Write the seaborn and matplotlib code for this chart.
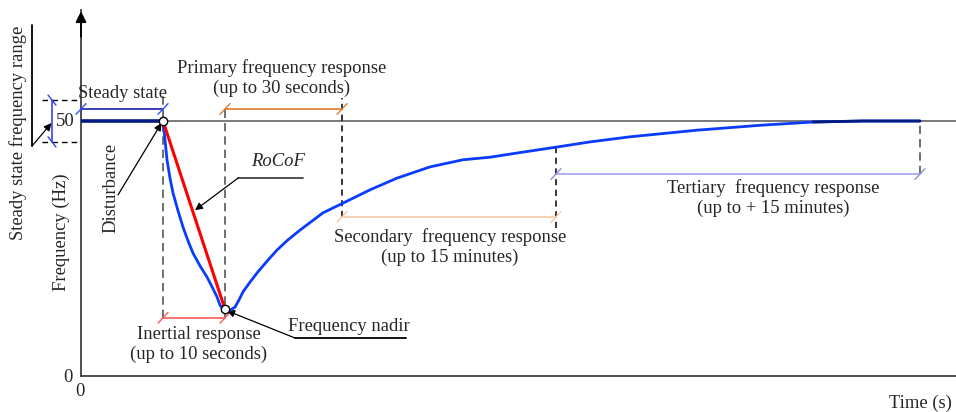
import matplotlib
matplotlib.use("Agg")
import matplotlib.pyplot as plt
import numpy as np
import pandas as pd
import seaborn as sns

# ---------------- data (schematic) ----------------
steady_t = [0, 82]
steady_f = [50.0, 50.0]

resp_t = [82, 84, 86, 89, 92, 97, 102, 107, 112, 119, 126, 131, 136, 139, 142,
          145, 149, 154, 158, 162, 169, 176, 186, 196, 207, 219, 242, 262, 289,
          316, 349, 382, 409, 442, 476, 509, 549, 616, 682, 732, 782, 839]
resp_f = [50.0, 46.3, 42.4, 38.8, 35.9, 32.4, 29.2, 26.5, 24.1, 21.6, 19.4,
          17.5, 15.5, 13.9, 13.1, 12.9, 12.9, 13.5, 14.9, 16.5, 18.4, 20.2,
          22.5, 24.7, 26.7, 28.6, 32.0, 33.9, 36.5, 38.8, 41.0, 42.4, 42.9,
          43.9, 44.9, 45.9, 46.9, 48.2, 49.2, 49.8, 50.0, 50.0]

rocof_t = [82, 144]
rocof_f = [50.0, 13.1]

nominal_f = 50.0
band_f = [45.9, 54.1]           # steady state frequency range
t_disturb, t_nadir, t_primary, t_secondary, t_tertiary = 82, 144, 261, 475, 839

# ---------------- style ----------------
sns.set_theme(style="white")
plt.rcParams["font.family"] = ["Liberation Serif", "DejaVu Serif"]
FS = 13.4

fig = plt.figure(figsize=(9.56, 4.12), dpi=100)
ax = fig.add_axes([81 / 956, 36 / 412, 875 / 956, 366 / 412])
ax.set_xlim(0, 875)
ax.set_ylim(0, 366 / 5.1)
ax.set_xticks([])
ax.set_yticks([])
for s in ["top", "right"]:
    ax.spines[s].set_visible(False)
for s in ["left", "bottom"]:
    ax.spines[s].set_color("#404040")
    ax.spines[s].set_linewidth(1.3)

# y axis arrow head
ax.annotate("", xy=(0, 366 / 5.1 + 0.3), xytext=(0, 66),
            arrowprops=dict(arrowstyle="-|>", color="black", lw=1.3,
                            mutation_scale=16),
            annotation_clip=False)

# nominal line
ax.axhline(nominal_f, color="#707070", lw=1.3, zorder=1)

# ---------------- curves ----------------
df_resp = pd.DataFrame({"t": resp_t, "f": resp_f})
line_kw = dict(sort=False, estimator=None, ax=ax)
sns.lineplot(data=df_resp, x="t", y="f", color="#0a3cff", lw=2.0, zorder=4,
             **line_kw)
tail = df_resp[(df_resp["f"] >= 49.8) & (df_resp["t"] > t_primary)]
sns.lineplot(data=tail, x="t", y="f", color="#001a80", lw=2.0, zorder=5,
             **line_kw)
sns.lineplot(x=steady_t, y=steady_f, color="#001a80", lw=2.6, zorder=5,
             **line_kw)
sns.lineplot(x=rocof_t, y=rocof_f, color="#ff0000", lw=2.2, zorder=5,
             **line_kw)
ax.plot([rocof_t[0], rocof_t[-1]], [rocof_f[0], rocof_f[-1]], ls="none",
        marker="o", ms=6, mfc="white", mec="black", mew=1.0, zorder=7)
for ln in ax.get_lines():
    ln.set_solid_joinstyle("round")
    ln.set_solid_capstyle("round")
ax.set_xlabel("")
ax.set_ylabel("")

# ---------------- dashed guides ----------------
gray_dash = dict(color="#555555", lw=1.2, ls=(0, (5, 3)), zorder=2)
blk_dash = dict(color="black", lw=1.1, ls=(0, (4, 3)), zorder=2)
ax.plot([t_disturb, t_disturb], [11.4, 55.9], **gray_dash)
ax.plot([t_nadir, t_nadir], [11.4, 52.8], **gray_dash)
ax.plot([t_primary, t_primary], [31.2, 54.6], **blk_dash)
ax.plot([t_secondary, t_secondary], [29.0, 45.3], **blk_dash)
ax.plot([t_tertiary, t_tertiary], [39.6, 50.0], **gray_dash)


def span(t0, t1, f, color, tick=None, lw=1.2):
    ax.plot([t0, t1], [f, f], color=color, lw=lw, clip_on=False, zorder=3)
    for t in (t0, t1):
        ax.plot([t - 5, t + 5], [f - 1.05, f + 1.05], color=tick or color,
                lw=1.0, clip_on=False, zorder=3)


span(0, t_disturb, 52.35, "#1c1caa", "#2e55ff")
span(t_nadir, t_primary, 52.35, "#e07a2a")
span(t_disturb, t_nadir, 11.4, "#ff5a5a")
span(t_primary, t_secondary, 31.2, "#f8c9a4")
span(t_secondary, t_tertiary, 39.6, "#a6a2f0", "#8f8be6")

# ---------------- texts ----------------
LS = 1.2
ax.text(41, 55.4, "Steady state", ha="center", va="center", fontsize=FS)
ax.text(201, 58.5, "Primary frequency response\n(up to 30 seconds)",
        ha="center", va="center", fontsize=FS, linespacing=LS)
ax.text(118, 6.2, "Inertial response\n(up to 10 seconds)",
        ha="center", va="center", fontsize=FS, linespacing=LS)
ax.text(369, 25.2, "Secondary  frequency response\n(up to 15 minutes)",
        ha="center", va="center", fontsize=FS, linespacing=LS)
ax.text(692, 34.9, "Tertiary  frequency response\n(up to + 15 minutes)",
        ha="center", va="center", fontsize=FS, linespacing=LS)

# RoCoF
ax.text(197, 42.0, "RoCoF", ha="center", va="center", fontsize=FS,
        fontstyle="italic")
ax.plot([157, 222], [38.8, 38.8], color="#404040", lw=1.3)
ax.annotate("", xy=(114, 32.5), xytext=(157, 38.8),
            arrowprops=dict(arrowstyle="-|>", color="black", lw=0.9,
                            mutation_scale=11, shrinkA=0, shrinkB=0))

# Frequency nadir
ax.text(268, 9.7, "Frequency nadir", ha="center", va="center", fontsize=FS)
ax.plot([214, 325], [7.45, 7.45], color="black", lw=1.3)
ax.annotate("", xy=(146, 12.8), xytext=(214, 7.45),
            arrowprops=dict(arrowstyle="-|>", color="black", lw=0.9,
                            mutation_scale=11, shrinkA=0, shrinkB=0))

# Disturbance
ax.text(30, 36.9, "Disturbance", ha="center", va="center", fontsize=FS,
        rotation=90)
ax.annotate("", xy=(80.5, 49.6), xytext=(37, 35.5),
            arrowprops=dict(arrowstyle="-|>", color="black", lw=0.9,
                            mutation_scale=11, shrinkA=0, shrinkB=0))

# axis labels and ticks
ax.text(-20, 28.2, "Frequency (Hz)", ha="center", va="center", fontsize=FS,
        rotation=90)
ax.text(-16, 50.0, "50", ha="center", va="center", fontsize=FS)
ax.text(-13, -0.3, "0", ha="center", va="center", fontsize=FS)
ax.text(-1, -3.1, "0", ha="center", va="center", fontsize=FS)
ax.text(839, -5.3, "Time (s)", ha="center", va="center", fontsize=FS)

# steady state frequency range bracket
ax.text(-63, 47.6, "Steady state frequency range", ha="center", va="center",
        fontsize=FS, rotation=90)
for fb in band_f:
    ax.plot([-39, 0], [fb, fb], color="black", lw=1.0, ls=(0, (4, 3)),
            clip_on=False)
ax.plot([-29, -29], band_f, color="#3344ee", lw=1.2, clip_on=False)
for fb in band_f:
    ax.plot([-33, -25], [fb + 1.0, fb - 1.0], color="#3344ee", lw=1.0,
            clip_on=False)
ax.plot([-49, -49], [45.1, 68.8], color="black", lw=1.3, clip_on=False)
ax.annotate("", xy=(-29.5, 49.6), xytext=(-49, 45.1),
            arrowprops=dict(arrowstyle="-|>", color="black", lw=0.9,
                            mutation_scale=11, shrinkA=0, shrinkB=0),
            annotation_clip=False)

fig.savefig("out.png", dpi=100)
